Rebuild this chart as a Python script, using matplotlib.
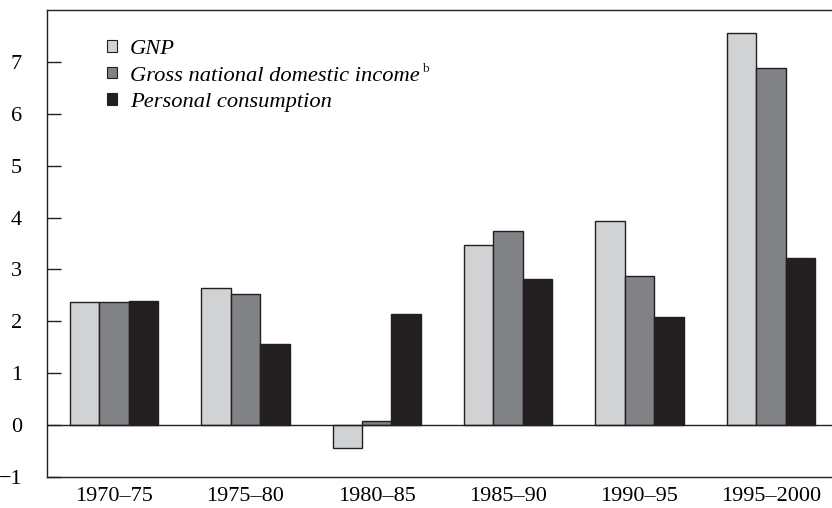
import matplotlib
matplotlib.use("Agg")
import matplotlib.pyplot as plt
import numpy as np
from matplotlib.patches import Patch

plt.rcParams['font.family'] = ['Liberation Serif', 'DejaVu Serif']

periods = ["1970–75", "1975–80", "1980–85", "1985–90", "1990–95", "1995–2000"]
gnp = [2.37, 2.65, -0.45, 3.47, 3.93, 7.56]
gndi = [2.37, 2.52, 0.07, 3.74, 2.87, 6.88]
consumption = [2.40, 1.57, 2.14, 2.81, 2.08, 3.22]
series_labels = ["GNP", "Gross national domestic income", "Personal consumption"]
footnote_mark = "b"
colors = ["#d1d2d4", "#808285", "#231f20"]
yticks = [-1, 0, 1, 2, 3, 4, 5, 6, 7]

fig = plt.figure(figsize=(8.32, 5.08), dpi=100)
ax = fig.add_axes([47/832, 1-477/508, 1-47/832, (477-10)/508])

x = np.arange(len(periods))
w = 0.224
edge = "#231f20"
for i, (vals, c) in enumerate(zip([gnp, gndi, consumption], colors)):
    ax.bar(x + (i-1)*w, vals, width=w, color=c, edgecolor=edge, linewidth=1.0, zorder=2)

ax.axhline(0, color="#231f20", linewidth=1.0, zorder=3)
ax.set_xlim(-0.51, 5.465)
ax.set_ylim(-1, 8)
ax.set_yticks(yticks)
ax.set_yticklabels([("−%d" % -v) if v < 0 else str(v) for v in yticks])
ax.set_xticks(x)
ax.set_xticklabels(periods)
ax.yaxis.set_tick_params(which='major', direction='in', length=10, width=1.0,
                         pad=18, labelsize=16, color="#231f20")
ax.tick_params(axis='x', length=0, pad=7, labelsize=16)
ax.spines['right'].set_visible(False)
for s in ['left', 'top', 'bottom']:
    ax.spines[s].set_linewidth(1.0)
    ax.spines[s].set_color("#231f20")

handles = [Patch(facecolor=c, edgecolor=edge, linewidth=0.8) for c in colors]
leg = ax.legend(handles, series_labels, loc='upper left',
                bbox_to_anchor=(107/832, 1-40/508), bbox_transform=fig.transFigure,
                frameon=False, prop={'style': 'italic', 'size': 16.2},
                handlelength=0.45, handleheight=0.42, handletextpad=0.58,
                labelspacing=0.34, borderpad=0, borderaxespad=0)

fig.canvas.draw()
bb = leg.get_texts()[1].get_window_extent(fig.canvas.get_renderer())
fig.text((bb.x1 + 2) / 832, (bb.y1 - 5) / 508, footnote_mark, fontsize=9.5,
         ha='left', va='baseline', color="#231f20")

fig.savefig("out.png", dpi=100)
